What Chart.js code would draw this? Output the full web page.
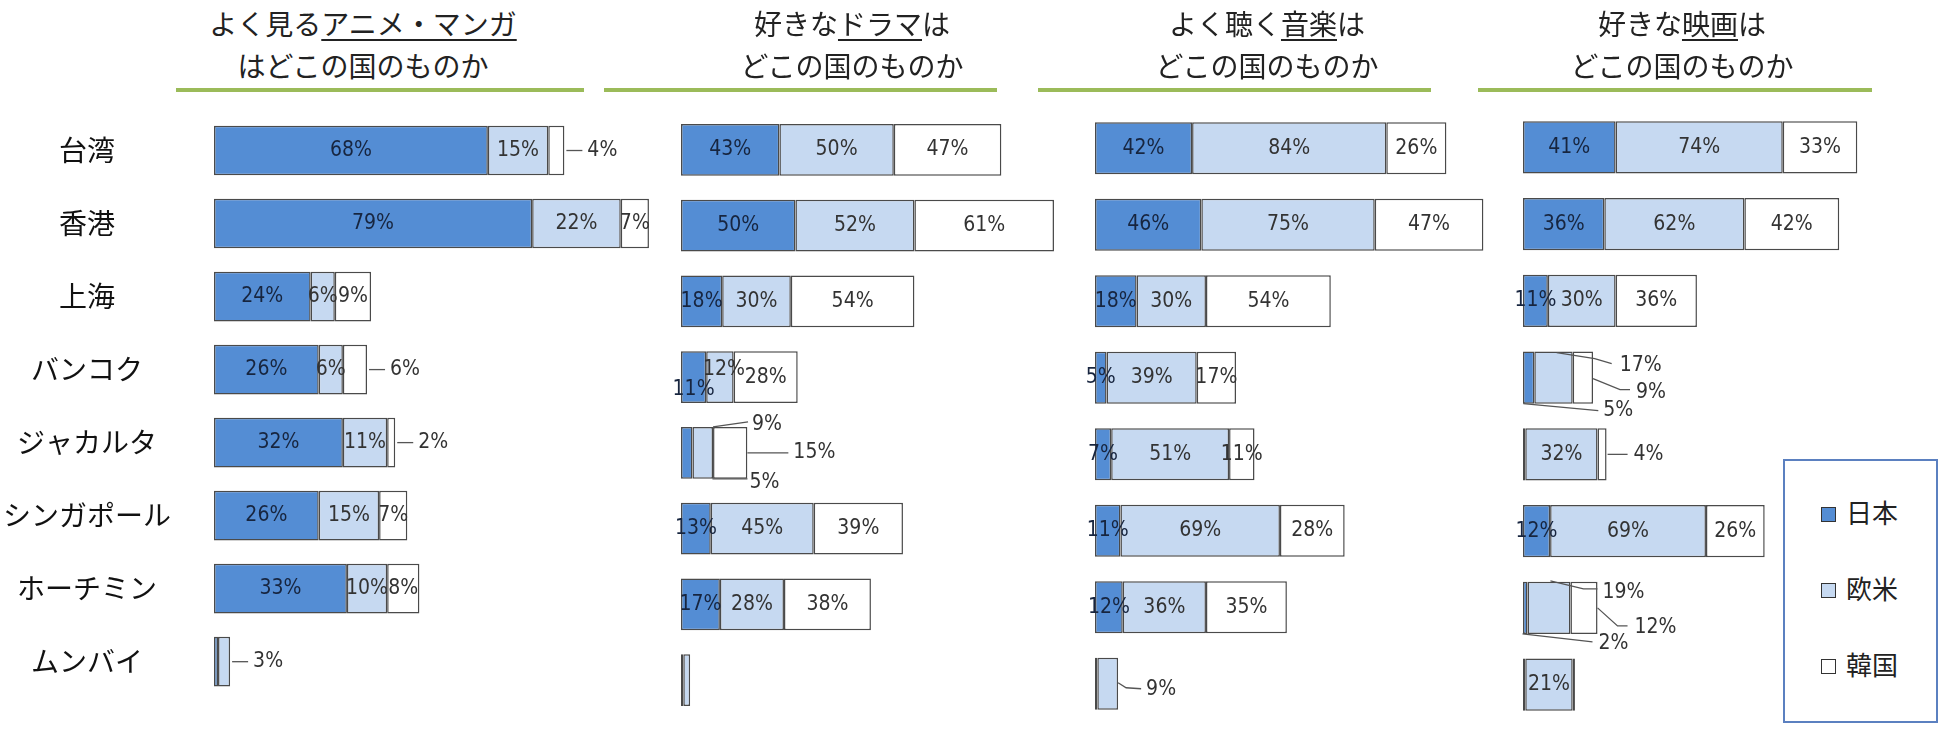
<!DOCTYPE html>
<html>
<head>
<meta charset="utf-8">
<script src="https://cdn.jsdelivr.net/npm/chart.js@4.4.1/dist/chart.umd.min.js"></script>
<style>
  body { margin: 0; background: #fff; }
  #wrap { position: relative; width: 1941px; height: 750px; overflow: hidden; font-family: "Noto Sans CJK JP", sans-serif; }
  canvas { position: absolute; top: 0; }
  .title { position: absolute; top: 2px; width: 520px; text-align: center; font-size: 28px; line-height: 42px; color: #222; }
  .title u { text-decoration-thickness: 1.5px; text-underline-offset: 4px; }
  .rule { position: absolute; top: 88px; height: 4px; background: #9bbb59; }
  #legend { position: absolute; left: 1783px; top: 459px; width: 151px; height: 260px; border: 2px solid #5b80c0; background: #fff; }
  .item { position: absolute; left: 36px; height: 30px; line-height: 30px; font-size: 26px; color: #222; }
  .item span { display: inline-block; width: 13px; height: 13px; border: 1.5px solid #333; margin-right: 10px; vertical-align: 1px; }
</style>
</head>
<body>
<div id="wrap"></div>
<script>
const cities = ["台湾", "香港", "上海", "バンコク", "ジャカルタ", "シンガポール", "ホーチミン", "ムンバイ"];
const countries = ["日本", "欧米", "韓国"];

const animeJapan = [68, 79, 24, 26, 32, 26, 33, 1];
const animeWest  = [15, 22, 6, 6, 11, 15, 10, 3];
const animeKorea = [4, 7, 9, 6, 2, 7, 8, 0];

const dramaJapan = [43, 50, 18, 11, 5, 13, 17, 1];
const dramaWest  = [50, 52, 30, 12, 9, 45, 28, 3];
const dramaKorea = [47, 61, 54, 28, 15, 39, 38, 0];

const musicJapan = [42, 46, 18, 5, 7, 11, 12, 1];
const musicWest  = [84, 75, 30, 39, 51, 69, 36, 9];
const musicKorea = [26, 47, 54, 17, 11, 28, 35, 0];

const movieJapan = [41, 36, 11, 5, 1, 12, 2, 1];
const movieWest  = [74, 62, 30, 17, 32, 69, 19, 21];
const movieKorea = [33, 42, 36, 9, 4, 26, 12, 1];

const colors = ["#548dd4", "#c6d9f1", "#ffffff"];

// label placement: key "row:dataset"; default is centred inside the segment
const shortLead = { pts: [[2, 0], [18, 0]], tx: 23, ty: 0 };
const placeAnime = { "0:2": shortLead, "3:2": shortLead, "4:2": shortLead, "7:1": shortLead, "7:0": "none" };
const placeDrama = {
  "3:0": { dx: 0, dy: 12 }, "3:1": { dx: 4, dy: -8 },
  "4:1": { pts: [[0, -26], [35, -31]], tx: 39, ty: -28 },
  "4:2": { pts: [[0, 0], [41, 0]], tx: 46, ty: 0 },
  "4:0": { pts: [[20, 26], [55, 26]], tx: 57, ty: 30 },
  "7:0": "none", "7:1": "none"
};
const placeMusic = { "7:0": "none", "7:1": { pts: [[0, -1], [8, 4], [23, 5]], tx: 28, ty: 6 } };
const placeMovie = {
  "3:1": { pts: [[-16, -25], [22, -19], [39, -14]], tx: 47, ty: -12 },
  "3:2": { pts: [[0, 1], [27, 12], [37, 12]], tx: 43, ty: 15 },
  "3:0": { pts: [[-11, 26], [64, 33]], tx: 69, ty: 33 },
  "4:2": { pts: [[1, 0], [21, 0]], tx: 27, ty: 0 },
  "4:0": "none",
  "6:1": { pts: [[-20, -27], [13, -19], [27, -19]], tx: 32, ty: -15 },
  "6:2": { pts: [[0, 0], [20, 18], [30, 18]], tx: 37, ty: 20 },
  "6:0": { pts: [[-5, 26], [65, 34]], tx: 71, ty: 36 },
  "7:0": "none", "7:2": "none"
};

// left = x where the bars start, width = plot width for 0..max
const panels = [
  { title: "よく見る<u>アニメ・マンガ</u><br>はどこの国のものか", cx: 363, rule: [176, 584],
    left: 214, width: 443, max: 110, top: 114, bottom: 35, cities: true,
    series: [animeJapan, animeWest, animeKorea], place: placeAnime },
  { title: "好きな<u>ドラマ</u>は<br>どこの国のものか", cx: 852, rule: [604, 997],
    left: 681, width: 389, max: 170, top: 112, bottom: 32, cities: false,
    series: [dramaJapan, dramaWest, dramaKorea], place: placeDrama },
  { title: "よく聴く<u>音楽</u>は<br>どこの国のものか", cx: 1267, rule: [1038, 1431],
    left: 1095, width: 393, max: 170, top: 110, bottom: 28, cities: false,
    series: [musicJapan, musicWest, musicKorea], place: placeMusic },
  { title: "好きな<u>映画</u>は<br>どこの国のものか", cx: 1682, rule: [1478, 1872],
    left: 1523, width: 384, max: 170, top: 109, bottom: 27, cities: false,
    series: [movieJapan, movieWest, movieKorea], place: placeMovie }
];

const segLabels = {
  id: "segLabels",
  afterDatasetsDraw(chart, args, opts) {
    const ctx = chart.ctx;
    const place = opts.place || {};
    ctx.save();
    ctx.font = '21px "Liberation Sans Narrow", "DejaVu Sans Condensed", sans-serif';
    ctx.textBaseline = "middle";
    chart.data.datasets.forEach((ds, di) => {
      chart.getDatasetMeta(di).data.forEach((bar, i) => {
        const v = ds.data[i];
        const p = place[i + ":" + di];
        if (!v || p === "none") return;
        const txt = v + "%";
        if (p && p.pts) {
          ctx.strokeStyle = "#555";
          ctx.lineWidth = 1.3;
          ctx.beginPath();
          p.pts.forEach(([dx, dy], k) => {
            if (k) ctx.lineTo(bar.x + dx, bar.y + dy); else ctx.moveTo(bar.x + dx, bar.y + dy);
          });
          ctx.stroke();
          ctx.fillStyle = "#333";
          ctx.textAlign = "left";
          ctx.fillText(txt, bar.x + p.tx, bar.y + p.ty);
        } else {
          ctx.fillStyle = di === 0 ? "#17253f" : "#333";
          ctx.textAlign = "center";
          const cx = (bar.x + bar.base) / 2 + (p ? p.dx : 0);
          ctx.fillText(txt, cx, bar.y + (p ? p.dy : 0));
        }
      });
    });
    ctx.restore();
  }
};

const wrap = document.getElementById("wrap");

panels.forEach((pn) => {
  const t = document.createElement("div");
  t.className = "title";
  t.style.left = (pn.cx - 260) + "px";
  t.innerHTML = pn.title;
  wrap.appendChild(t);

  const r = document.createElement("div");
  r.className = "rule";
  r.style.left = pn.rule[0] + "px";
  r.style.width = (pn.rule[1] - pn.rule[0]) + "px";
  wrap.appendChild(r);

  // canvas starts a bit left of the plot so overflowing labels are not cut
  const padLeft = pn.cities ? 0 : 24;
  const axisW = pn.cities ? pn.left : 0;
  const cv = document.createElement("canvas");
  cv.width = padLeft + axisW + pn.width;
  cv.height = 750;
  cv.style.left = (pn.left - axisW - padLeft) + "px";
  wrap.appendChild(cv);

  const yAxis = {
    stacked: true,
    display: pn.cities,
    grid: { display: false },
    border: { display: false },
    ticks: {
      padding: 35,
      crossAlign: "center",
      color: "#111",
      font: { family: '"Noto Sans CJK JP", sans-serif', size: 28 }
    }
  };
  if (pn.cities) yAxis.afterFit = (scale) => { scale.width = axisW; };

  new Chart(cv, {
    type: "bar",
    data: {
      labels: cities,
      datasets: pn.series.map((s, k) => ({
        label: countries[k],
        data: s,
        backgroundColor: colors[k],
        borderColor: "#4a4a4a",
        borderWidth: 1.5,
        borderSkipped: false,
        barPercentage: 0.68,
        categoryPercentage: 1
      }))
    },
    options: {
      indexAxis: "y",
      responsive: false,
      animation: false,
      layout: { padding: { top: pn.top, bottom: pn.bottom, left: padLeft, right: 0 } },
      scales: {
        x: { stacked: true, min: 0, max: pn.max, display: false },
        y: yAxis
      },
      plugins: {
        legend: { display: false },
        tooltip: { enabled: false },
        segLabels: { place: pn.place }
      }
    },
    plugins: [segLabels]
  });
});

// legend box
const lg = document.createElement("div");
lg.id = "legend";
countries.forEach((c, k) => {
  const it = document.createElement("div");
  it.className = "item";
  it.style.top = (36 + k * 76) + "px";
  it.innerHTML = '<span style="background:' + colors[k] + '"></span>' + c;
  lg.appendChild(it);
});
wrap.appendChild(lg);
</script>
</body>
</html>
